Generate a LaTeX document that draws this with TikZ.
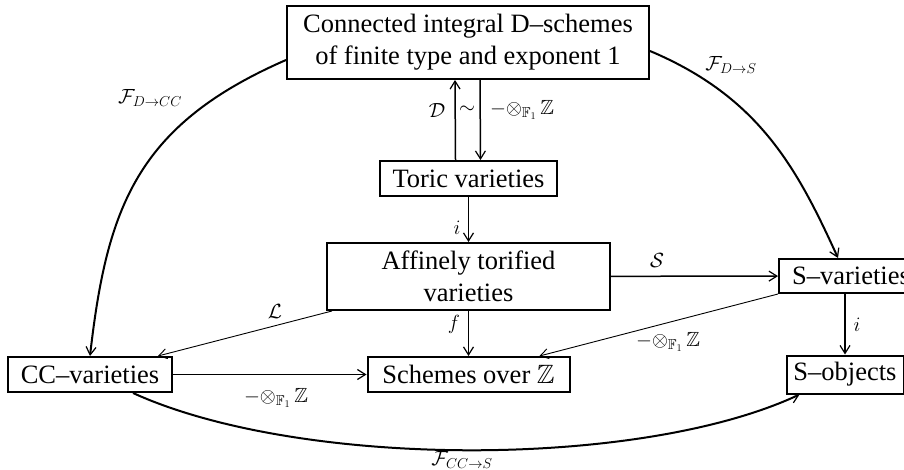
\documentclass[tikz,border=0pt]{standalone}
\usepackage{fix-cm}
\usepackage{amssymb}
\usepackage[no-math]{fontspec}
\setmainfont{Liberation Serif}
\usetikzlibrary{arrows.meta,calc}
\newcommand{\tenz}{\mathord{-}\mathord{\otimes}_{\mathbb{F}_1}\,\mathbb{Z}}
\begin{document}
\begin{tikzpicture}[x=1pt,y=-1pt,
  box/.style={draw,line width=2pt,font=\fontsize{26.5}{32}\selectfont,inner sep=0pt,align=center},
  lab/.style={font=\fontsize{20.5}{24}\selectfont,inner sep=0pt},
  arr/.style={line width=1.5pt,-{Straight Barb[length=8pt,width=10pt,line width=1.2pt]}},
  thinarr/.style={line width=0.9pt,-{Straight Barb[length=8pt,width=10pt,line width=0.9pt]}},
  curv/.style={line width=2pt,-{Straight Barb[length=8pt,width=10pt,line width=1.2pt]}},
]
\clip (0,0) rectangle (904,470);
\fill[white] (0,0) rectangle (904,470);
\node[box,minimum width=362pt,minimum height=73pt] (top) at (468,42.5) {Connected integral D–schemes\\of finite type and exponent 1};
\node[box,minimum width=177pt,minimum height=35pt] (toric) at (468.5,178.5) {Toric varieties};
\node[box,minimum width=283pt,minimum height=67pt] (aff) at (468.5,276.5) {Affinely torified\\varieties};
\node[box,minimum width=144pt,minimum height=34pt] (svar) at (851,276) {S–varieties};
\node[box,minimum width=164pt,minimum height=35pt] (cc) at (90,374.5) {CC–varieties};
\node[box,minimum width=202pt,minimum height=35pt] (sch) at (468.5,374.5) {Schemes over $\mathbb{Z}$};
\node[box,minimum width=117pt,minimum height=38pt] (sobj) at (845,374.5) {S–objects};

\draw[arr] ([xshift=-13pt]toric.north) -- ([xshift=-13pt]top.south);
\draw[arr] ([xshift=12pt]top.south) -- ([xshift=12pt]toric.north);
\draw[arr] (toric) -- (aff);
\draw[arr] (aff) -- (sch);
\draw[arr] (aff) -- (svar);
\draw[arr] (cc) -- (sch);
\draw[arr] (svar.south -| sobj) -- (sobj);
\draw[thinarr] ($(aff.south west)+(6,0)$) -- ($(cc.north east)+(-15,0)$);
\draw[thinarr] (svar.south west) -- ($(sch.north east)+(-31,0)$);
\draw[curv] ([yshift=-17.5pt]top.west) .. controls (137,125) and (107,207) .. (cc.north);
\draw[curv] ([yshift=-8.5pt]top.east) .. controls (759,97) and (797,168) .. ([xshift=-13pt]svar.north);
\draw[curv] ([xshift=43pt]cc.south) .. controls (300,469) and (640,469) .. ([xshift=14pt]sobj.south west);

\node[lab] (lD) at (437,110) {$\mathcal{D}$};
\node[lab] (lsim) at (467,110) {$\sim$};
\node[lab] (lt1) at (522,110) {$\tenz$};
\node[lab] (li1) at (457,228) {$i$};
\node[lab] (lf) at (454,324) {$f$};
\node[lab] (lS) at (657,260) {$\mathcal{S}$};
\node[lab] (li2) at (857,325) {$i$};
\node[lab] (lL) at (275,311) {$\mathcal{L}$};
\node[lab] (lt2) at (668,342) {$\tenz$};
\node[lab] (lt3) at (276,398) {$\tenz$};
\node[lab] (lDCC) at (150,98) {$\mathcal{F}_{D\to CC}$};
\node[lab] (lDS) at (731,65) {$\mathcal{F}_{D\to S}$};
\node[lab] (lCCS) at (462,460) {$\mathcal{F}_{CC\to S}$};
\end{tikzpicture}
\end{document}
